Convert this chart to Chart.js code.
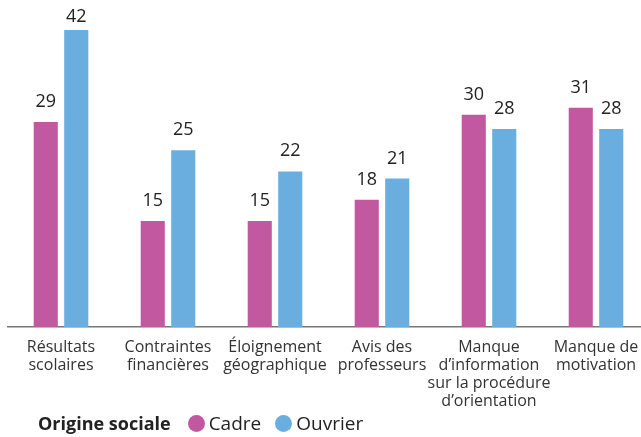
<!DOCTYPE html>
<html lang="fr">
<head>
<meta charset="utf-8">
<script src="https://cdn.jsdelivr.net/npm/chart.js@4"></script>
<style>
  html, body { margin: 0; padding: 0; background: #fff; overflow: hidden; }
  body { width: 641px; height: 437px; position: relative; font-family: "Open Sans", sans-serif; }
  #wrap { position: absolute; left: 0; top: 0; width: 650px; height: 437px; }
  #legend { position: absolute; left: 38px; top: 411px; font-size: 19px; line-height: 24px; color: #222; display: flex; align-items: center; white-space: nowrap; }
  #legend b { margin-right: 17px; font-weight: 700; font-size: 18px; }
  .dot { display: inline-block; width: 17px; height: 17px; border-radius: 50%; margin-right: 4px; }
  .item { display: flex; align-items: center; margin-right: 14px; }
</style>
</head>
<body>
<div id="wrap"><canvas id="chart"></canvas></div>
<div id="legend">
  <b>Origine sociale</b>
  <span class="item"><span class="dot" style="background:#c2589f"></span>Cadre</span>
  <span class="item"><span class="dot" style="background:#6aaee0"></span>Ouvrier</span>
</div>
<script>
const categories = [
  ['Résultats', 'scolaires'],
  ['Contraintes', 'financières'],
  ['Éloignement', 'géographique'],
  ['Avis des', 'professeurs'],
  ['Manque', 'd\u2019information', 'sur la procédure', 'd\u2019orientation'],
  ['Manque de', 'motivation']
];
const cadre = [29, 15, 15, 18, 30, 31];
const ouvrier = [42, 25, 22, 21, 28, 28];

// values written above each bar, kept inside the top of the canvas
const barValues = {
  id: 'barValues',
  afterDatasetsDraw(chart) {
    const ctx = chart.ctx;
    ctx.save();
    ctx.font = '18px "Open Sans", sans-serif';
    ctx.fillStyle = '#222';
    ctx.textAlign = 'center';
    ctx.textBaseline = 'alphabetic';
    chart.data.datasets.forEach((ds, i) => {
      chart.getDatasetMeta(i).data.forEach((bar, j) => {
        ctx.fillText(ds.data[j], bar.x, Math.max(bar.y - 15, 22));
      });
    });
    ctx.restore();
  }
};

new Chart(document.getElementById('chart'), {
  type: 'bar',
  data: {
    labels: categories,
    datasets: [
      { label: 'Cadre', data: cadre, backgroundColor: '#c2589f' },
      { label: 'Ouvrier', data: ouvrier, backgroundColor: '#6aaee0' }
    ]
  },
  options: {
    responsive: true,
    maintainAspectRatio: false,
    animation: false,
    categoryPercentage: 0.57,
    barPercentage: 0.79,
    layout: { padding: { left: 7.5, right: 0.5, top: 30, bottom: 0 } },
    plugins: { legend: { display: false }, tooltip: { enabled: false } },
    scales: {
      x: {
        grid: { display: false, drawTicks: false },
        border: { display: true, color: '#777', width: 1.5 },
        ticks: {
          color: '#333',
          padding: 11,
          maxRotation: 0,
          autoSkip: false,
          font: { family: '"Open Sans", sans-serif', size: 16, lineHeight: 1.125 }
        },
        afterFit(scale) { scale.height = 110; }
      },
      y: { display: false, min: 0, max: 42 }
    }
  },
  plugins: [barValues]
});
</script>
</body>
</html>
